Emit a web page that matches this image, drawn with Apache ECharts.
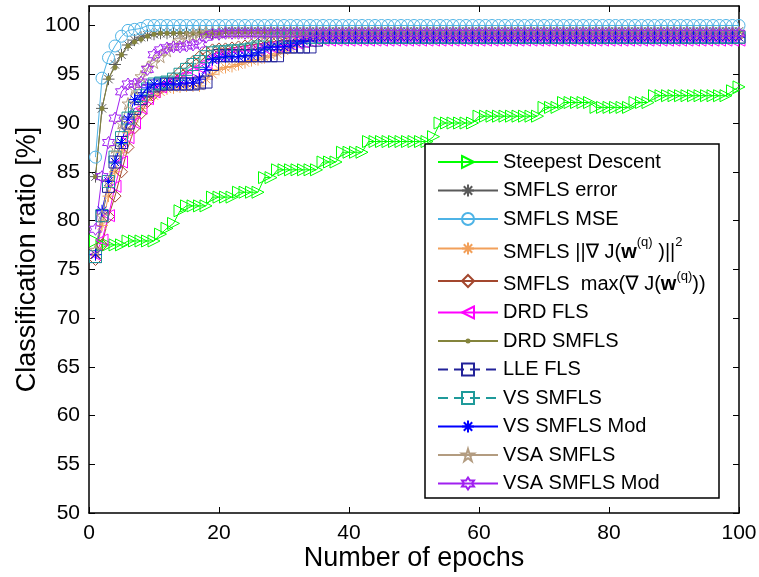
<!DOCTYPE html>
<html><head><meta charset="utf-8">
<script src="https://cdn.jsdelivr.net/npm/echarts@6/dist/echarts.min.js"></script>
<style>html,body{margin:0;padding:0;background:#fff}#c{width:759px;height:577px}</style>
</head><body><div id="c"></div>
<script>
const epochs = [
1,2,3,4,5,6,7,8,9,10,11,12,13,14,15,16,17,18,19,20,
21,22,23,24,25,26,27,28,29,30,31,32,33,34,35,36,37,38,39,40,
41,42,43,44,45,46,47,48,49,50,51,52,53,54,55,56,57,58,59,60,
61,62,63,64,65,66,67,68,69,70,71,72,73,74,75,76,77,78,79,80,
81,82,83,84,85,86,87,88,89,90,91,92,93,94,95,96,97,98,99,100];

const steepest = [
77.9,77.5,77.5,77.5,77.5,77.9,77.9,77.9,77.9,77.9,
78.6,79.2,79.7,81.0,81.5,81.5,81.5,81.5,82.4,82.4,
82.4,82.4,82.9,82.9,82.9,82.9,84.4,84.4,85.2,85.2,
85.2,85.2,85.2,85.2,85.2,86.0,86.0,86.0,87.0,87.0,
87.0,87.0,88.1,88.1,88.1,88.1,88.1,88.1,88.1,88.1,
88.1,88.1,88.6,90.0,90.0,90.0,90.0,90.0,90.0,90.7,
90.7,90.7,90.7,90.7,90.7,90.7,90.7,90.7,90.7,91.6,
91.6,91.6,92.1,92.1,92.1,92.1,92.1,91.6,91.6,91.6,
91.6,91.6,91.6,92.1,92.1,92.1,92.8,92.8,92.8,92.8,
92.8,92.8,92.8,92.8,92.8,92.8,92.8,92.8,93.3,93.7];

const smflsError = [
84.5,91.5,94.5,96.0,97.0,98.0,98.5,98.8,99.0,99.1,
99.2,99.2,99.2,99.2,99.2,99.2,99.2,99.2,99.2,99.2,
99.4,99.4,99.4,99.4,99.4,99.4,99.4,99.4,99.4,99.4,
99.4,99.4,99.4,99.4,99.4,99.4,99.4,99.4,99.4,99.4,
99.4,99.4,99.4,99.4,99.4,99.4,99.4,99.4,99.4,99.4,
99.4,99.4,99.4,99.4,99.4,99.4,99.4,99.4,99.4,99.4,
99.4,99.4,99.4,99.4,99.4,99.4,99.4,99.4,99.4,99.4,
99.4,99.4,99.4,99.4,99.4,99.4,99.4,99.4,99.4,99.4,
99.4,99.4,99.4,99.4,99.4,99.4,99.4,99.4,99.4,99.4,
99.4,99.4,99.4,99.4,99.4,99.4,99.4,99.4,99.4,99.4];

const smflsMse = [
86.5,94.6,96.7,97.9,98.9,99.5,99.6,99.7,100,100,
100,100,100,100,100,100,100,100,100,100,
100,100,100,100,100,100,100,100,100,100,
100,100,100,100,100,100,100,100,100,100,
100,100,100,100,100,100,100,100,100,100,
100,100,100,100,100,100,100,100,100,100,
100,100,100,100,100,100,100,100,100,100,
100,100,100,100,100,100,100,100,100,100,
100,100,100,100,100,100,100,100,100,100,
100,100,100,100,100,100,100,100,100,100];

const smflsGrad2 = [
76.5,79.5,82.5,85.0,87.0,89.0,90.5,91.5,92.3,92.8,
93.2,93.5,93.6,93.7,93.8,93.8,93.8,94.5,95.0,95.5,
95.7,95.8,96.0,96.2,96.4,96.5,96.7,96.9,97.1,97.4,
97.7,98.1,98.5,98.8,98.8,98.8,98.8,98.8,98.8,98.8,
98.8,98.8,98.8,98.8,98.8,98.8,98.8,98.8,98.8,98.8,
98.8,98.8,98.8,98.8,98.8,98.8,98.8,98.8,98.8,98.8,
98.8,98.8,98.8,98.8,98.8,98.8,98.8,98.8,98.8,98.8,
98.8,98.8,98.8,98.8,98.8,98.8,98.8,98.8,98.8,98.8,
98.8,98.8,98.8,98.8,98.8,98.8,98.8,98.8,98.8,98.8,
98.8,98.8,98.8,98.8,98.8,98.8,98.8,98.8,98.8,98.8];

const smflsMax = [
76.0,77.5,80.4,82.5,85.0,87.5,89.5,91.0,92.2,93.0,
93.6,94.1,94.6,95.2,95.7,96.3,96.8,97.3,97.5,97.6,
97.6,97.7,97.8,97.9,98.0,98.1,98.2,98.3,98.4,98.6,
98.8,99.0,99.0,99.0,99.0,99.0,99.0,99.0,99.0,99.0,
99.0,99.0,99.0,99.0,99.0,99.0,99.0,99.0,99.0,99.0,
99.0,99.0,99.0,99.0,99.0,99.0,99.0,99.0,99.0,99.0,
99.0,99.0,99.0,99.0,99.0,99.0,99.0,99.0,99.0,99.0,
99.0,99.0,99.0,99.0,99.0,99.0,99.0,99.0,99.0,99.0,
99.0,99.0,99.0,99.0,99.0,99.0,99.0,99.0,99.0,99.0,
99.0,99.0,99.0,99.0,99.0,99.0,99.0,99.0,99.0,99.0];

const drdFls = [
76.5,78.0,80.5,83.5,86.0,88.5,90.0,91.5,92.5,93.2,
93.7,94.0,94.3,94.6,95.0,95.3,95.7,96.2,96.7,97.0,
97.1,97.2,97.3,97.4,97.5,97.6,97.7,97.8,97.9,98.0,
98.1,98.2,98.3,98.4,98.5,98.5,98.5,98.5,98.5,98.5,
98.5,98.5,98.5,98.5,98.5,98.5,98.5,98.5,98.5,98.5,
98.5,98.5,98.5,98.5,98.5,98.5,98.5,98.5,98.5,98.5,
98.5,98.5,98.5,98.5,98.5,98.5,98.5,98.5,98.5,98.5,
98.5,98.5,98.5,98.5,98.5,98.5,98.5,98.5,98.5,98.5,
98.5,98.5,98.5,98.5,98.5,98.5,98.5,98.5,98.5,98.5,
98.5,98.5,98.5,98.5,98.5,98.5,98.5,98.5,98.5,98.5];

const drdSmfls = [
84.5,91.5,94.6,95.7,97.0,97.9,98.3,98.6,98.9,99.1,
99.2,99.2,99.2,99.2,99.2,99.2,99.2,99.2,99.2,99.2,
99.4,99.4,99.4,99.4,99.4,99.4,99.4,99.4,99.4,99.4,
99.4,99.4,99.4,99.4,99.4,99.4,99.4,99.4,99.4,99.4,
99.4,99.4,99.4,99.4,99.4,99.4,99.4,99.4,99.4,99.4,
99.4,99.4,99.4,99.4,99.4,99.4,99.4,99.4,99.4,99.4,
99.4,99.4,99.4,99.4,99.4,99.4,99.4,99.4,99.4,99.4,
99.4,99.4,99.4,99.4,99.4,99.4,99.4,99.4,99.4,99.4,
99.4,99.4,99.4,99.4,99.4,99.4,99.4,99.4,99.4,99.4,
99.4,99.4,99.4,99.4,99.4,99.4,99.4,99.4,99.4,99.4];

const lleFls = [
76.3,80.5,83.5,86.0,88.0,90.0,91.5,92.5,93.3,93.8,
94.0,94.0,94.0,94.0,94.0,94.0,94.1,94.2,96.0,96.9,
96.9,96.9,96.9,96.9,96.9,96.9,96.9,96.9,96.9,97.8,
97.8,97.8,97.8,97.8,98.5,98.8,98.8,98.8,98.8,98.8,
98.8,98.8,98.8,98.8,98.8,98.8,98.8,98.8,98.8,98.8,
98.8,98.8,98.8,98.8,98.8,98.8,98.8,98.8,98.8,98.8,
98.8,98.8,98.8,98.8,98.8,98.8,98.8,98.8,98.8,98.8,
98.8,98.8,98.8,98.8,98.8,98.8,98.8,98.8,98.8,98.8,
98.8,98.8,98.8,98.8,98.8,98.8,98.8,98.8,98.8,98.8,
98.8,98.8,98.8,98.8,98.8,98.8,98.8,98.8,98.8,98.8];

const vsSmfls = [
76.3,80.5,84.0,86.5,88.5,90.5,91.8,92.8,93.5,94.0,
94.1,94.2,94.5,95.0,95.5,96.0,96.3,96.8,97.2,97.3,
97.3,97.4,97.4,97.5,97.6,97.8,98.2,98.5,98.7,98.8,
98.8,98.8,98.8,98.8,98.8,98.8,98.8,98.8,98.8,98.8,
98.8,98.8,98.8,98.8,98.8,98.8,98.8,98.8,98.8,98.8,
98.8,98.8,98.8,98.8,98.8,98.8,98.8,98.8,98.8,98.8,
98.8,98.8,98.8,98.8,98.8,98.8,98.8,98.8,98.8,98.8,
98.8,98.8,98.8,98.8,98.8,98.8,98.8,98.8,98.8,98.8,
98.8,98.8,98.8,98.8,98.8,98.8,98.8,98.8,98.8,98.8,
98.8,98.8,98.8,98.8,98.8,98.8,98.8,98.8,98.8,98.8];

const vsSmflsMod = [
76.5,81.0,84.0,86.0,88.0,90.4,92.4,92.8,93.6,94.0,
94.0,94.0,94.0,94.0,94.1,94.1,94.5,95.5,96.5,96.7,
96.8,96.8,96.8,96.9,96.9,97.2,97.7,97.8,97.8,97.8,
97.9,98.2,98.4,98.7,98.8,98.8,98.8,98.8,98.8,98.8,
98.8,98.8,98.8,98.8,98.8,98.8,98.8,98.8,98.8,98.8,
98.8,98.8,98.8,98.8,98.8,98.8,98.8,98.8,98.8,98.8,
98.8,98.8,98.8,98.8,98.8,98.8,98.8,98.8,98.8,98.8,
98.8,98.8,98.8,98.8,98.8,98.8,98.8,98.8,98.8,98.8,
98.8,98.8,98.8,98.8,98.8,98.8,98.8,98.8,98.8,98.8,
98.8,98.8,98.8,98.8,98.8,98.8,98.8,98.8,98.8,98.8];

const vsaSmfls = [
77.0,80.5,84.0,87.5,90.0,92.0,93.5,94.8,95.7,96.2,
96.8,97.4,98.0,98.5,98.8,99.0,99.3,99.3,99.3,99.3,
99.3,99.3,99.3,99.3,99.3,99.3,99.3,99.3,99.3,99.3,
99.3,99.3,99.3,99.3,99.3,99.3,99.3,99.3,99.3,99.3,
99.3,99.3,99.3,99.3,99.3,99.3,99.3,99.3,99.3,99.3,
99.3,99.3,99.3,99.3,99.3,99.3,99.3,99.3,99.3,99.3,
99.3,99.3,99.3,99.3,99.3,99.3,99.3,99.3,99.3,99.3,
99.3,99.3,99.3,99.3,99.3,99.3,99.3,99.3,99.3,99.3,
99.3,99.3,99.3,99.3,99.3,99.3,99.3,99.3,99.3,99.3,
99.3,99.3,99.3,99.3,99.3,99.3,99.3,99.3,99.3,99.3];

const vsaSmflsMod = [
79.1,84.5,88.0,90.5,93.2,94.0,94.0,94.2,95.5,97.0,
97.5,97.7,97.8,97.8,97.9,98.0,98.1,98.8,99.1,99.1,
99.2,99.2,99.2,99.2,99.2,99.2,99.2,99.2,99.2,99.2,
99.2,99.2,99.2,99.2,99.2,99.2,99.2,99.2,99.2,99.2,
99.2,99.2,99.2,99.2,99.2,99.2,99.2,99.2,99.2,99.2,
99.2,99.2,99.2,99.2,99.2,99.2,99.2,99.2,99.2,99.2,
99.2,99.2,99.2,99.2,99.2,99.2,99.2,99.2,99.2,99.2,
99.2,99.2,99.2,99.2,99.2,99.2,99.2,99.2,99.2,99.2,
99.2,99.2,99.2,99.2,99.2,99.2,99.2,99.2,99.2,99.2,
99.2,99.2,99.2,99.2,99.2,99.2,99.2,99.2,99.2,99.2];

const xTicks = [0, 20, 40, 60, 80, 100];
const yTicks = [50, 55, 60, 65, 70, 75, 80, 85, 90, 95, 100];

const seriesNames = [
  'Steepest Descent', 'SMFLS error', 'SMFLS MSE', 'SMFLS grad2', 'SMFLS max',
  'DRD FLS', 'DRD SMFLS', 'LLE FLS', 'VS SMFLS', 'VS SMFLS Mod', 'VSA SMFLS', 'VSA SMFLS Mod'
];

const FONT = '"Liberation Sans", Arial, Helvetica, "DejaVu Sans", sans-serif';

const SYM = {
  triRight: 'path://M0,0L12,6L0,12Z',
  triLeft: 'path://M12,0L0,6L12,12Z',
  asterisk: 'path://M6,0L6,12M0,6L12,6M1.8,1.8L10.2,10.2M1.8,10.2L10.2,1.8',
  dot: 'path://M0,0L0.01,0L0,0.01ZM12,12L11.99,12L12,11.99ZM3.5,6A2.5,2.5 0 1,0 8.5,6A2.5,2.5 0 1,0 3.5,6Z',
  penta: 'path://M6,0L7.348,4.146L11.706,4.146L8.18,6.708L9.527,10.854L6,8.292L2.473,10.854L3.82,6.708L0.294,4.146L4.652,4.146Z',
  hexa: 'path://M6,0L7.732,3L11.196,3L9.464,6L11.196,9L7.732,9L6,12L4.268,9L0.804,9L2.536,6L0.804,3L4.268,3Z'
};

function mk(name, vals, color, symbol, extra) {
  const s = {
    name: name, type: 'line',
    data: epochs.map((e, i) => [e, vals[i]]),
    symbol: symbol, symbolSize: 12, showSymbol: true, showAllSymbol: true,
    clip: false, silent: true, animation: false,
    lineStyle: { color: color, width: 1 },
    itemStyle: { color: 'none', borderColor: color, borderWidth: 1 },
    emphasis: { disabled: true }
  };
  if (extra) {
    if (extra.lineType) s.lineStyle.type = extra.lineType;
    if (extra.fill) { s.itemStyle.color = extra.fill; s.itemStyle.borderWidth = 0; }
  }
  return s;
}

const series = [
  mk(seriesNames[0], steepest, '#00ff00', SYM.triRight),
  mk(seriesNames[1], smflsError, '#5a5a5a', SYM.asterisk),
  mk(seriesNames[2], smflsMse, '#4db3e6', 'circle'),
  mk(seriesNames[3], smflsGrad2, '#f2a05a', SYM.asterisk),
  mk(seriesNames[4], smflsMax, '#a3472e', 'diamond'),
  mk(seriesNames[5], drdFls, '#ff00ff', SYM.triLeft),
  mk(seriesNames[6], drdSmfls, '#84843c', SYM.dot, { fill: '#84843c' }),
  mk(seriesNames[7], lleFls, '#222299', 'rect', { lineType: [10, 6] }),
  mk(seriesNames[8], vsSmfls, '#1f9a9a', 'rect', { lineType: [10, 6] }),
  mk(seriesNames[9], vsSmflsMod, '#0000ff', SYM.asterisk),
  mk(seriesNames[10], vsaSmfls, '#b39c80', SYM.penta),
  mk(seriesNames[11], vsaSmflsMod, '#a020f0', SYM.hexa)
];

const legendLabels = {
  'SMFLS grad2': '{a4|SMFLS ||\u2207 J(}{b4|w}{s4|(q)}{a4| )||}{s4|2}',
  'SMFLS max': '{a5|SMFLS  max(\u2207 J(}{b5|w}{s5|(q)}{a5|))}'
};

const base = { fontFamily: FONT, fontSize: 20, color: '#000' };
const rich = {
  a4: Object.assign({}, base, { lineHeight: 30, height: 23, verticalAlign: 'bottom' }),
  b4: Object.assign({}, base, { fontWeight: 'bold', lineHeight: 30, height: 23, verticalAlign: 'bottom' }),
  s4: Object.assign({}, base, { fontSize: 13, lineHeight: 30, height: 13, padding: [2, 0, 15, 0], verticalAlign: 'top' }),
  a5: Object.assign({}, base, { lineHeight: 34, height: 28, verticalAlign: 'bottom' }),
  b5: Object.assign({}, base, { fontWeight: 'bold', lineHeight: 34, height: 28, verticalAlign: 'bottom' }),
  s5: Object.assign({}, base, { fontSize: 13, lineHeight: 34, height: 13, padding: [5.5, 0, 15.5, 0], verticalAlign: 'top' })
};

const axisCommon = {
  axisLine: { show: true, onZero: false, lineStyle: { color: '#000', width: 1.5 } },
  axisTick: { show: true, inside: true, length: 6, lineStyle: { color: '#000', width: 1 } },
  splitLine: { show: false },
  nameMoveOverlap: false
};

const option = {
  animation: false,
  backgroundColor: '#fff',
  grid: { left: 89, right: 20, top: 6, bottom: 64, containLabel: false, outerBoundsMode: 'none' },
  xAxis: [
    Object.assign({}, axisCommon, {
      type: 'value', min: 0, max: 100, interval: 20, position: 'bottom',
      axisTick: Object.assign({}, axisCommon.axisTick, { customValues: xTicks }),
      axisLabel: { customValues: xTicks, fontFamily: FONT, fontSize: 21, color: '#000', margin: 10 },
      name: 'Number of epochs', nameLocation: 'middle', nameGap: 31,
      nameTextStyle: { fontFamily: FONT, fontSize: 27, color: '#000', lineHeight: 30 }
    }),
    Object.assign({}, axisCommon, {
      type: 'value', min: 0, max: 100, interval: 20, position: 'top',
      axisTick: Object.assign({}, axisCommon.axisTick, { customValues: xTicks }),
      axisLabel: { show: false }
    })
  ],
  yAxis: [
    Object.assign({}, axisCommon, {
      type: 'value', min: 50, max: 102, interval: 5, position: 'left',
      axisTick: Object.assign({}, axisCommon.axisTick, { customValues: yTicks }),
      axisLabel: { customValues: yTicks, fontFamily: FONT, fontSize: 21, color: '#000', margin: 9 },
      name: 'Classification ratio [%]', nameLocation: 'middle', nameGap: 46,
      nameTextStyle: { fontFamily: FONT, fontSize: 27, color: '#000', lineHeight: 30 }
    }),
    Object.assign({}, axisCommon, {
      type: 'value', min: 50, max: 102, interval: 5, position: 'right',
      axisTick: Object.assign({}, axisCommon.axisTick, { customValues: yTicks }),
      axisLabel: { show: false }
    })
  ],
  legend: {
    show: true, orient: 'vertical', left: 437, top: 148, padding: 0, itemGap: 0.5,
    itemWidth: 60, itemHeight: 15, selectedMode: false, z: 10,
    data: seriesNames,
    formatter: function (n) { return legendLabels[n] || n; },
    textStyle: { fontFamily: FONT, fontSize: 20, color: '#000', lineHeight: 28, rich: rich }
  },
  graphic: [{
    type: 'rect', z: 5, silent: true,
    shape: { x: 425, y: 144, width: 294, height: 354 },
    style: { fill: '#fff', stroke: '#000', lineWidth: 1.5 }
  }],
  series: series
};

const chart = echarts.init(document.getElementById('c'), null, { renderer: 'canvas' });
chart.setOption(option);
</script>
</body></html>
